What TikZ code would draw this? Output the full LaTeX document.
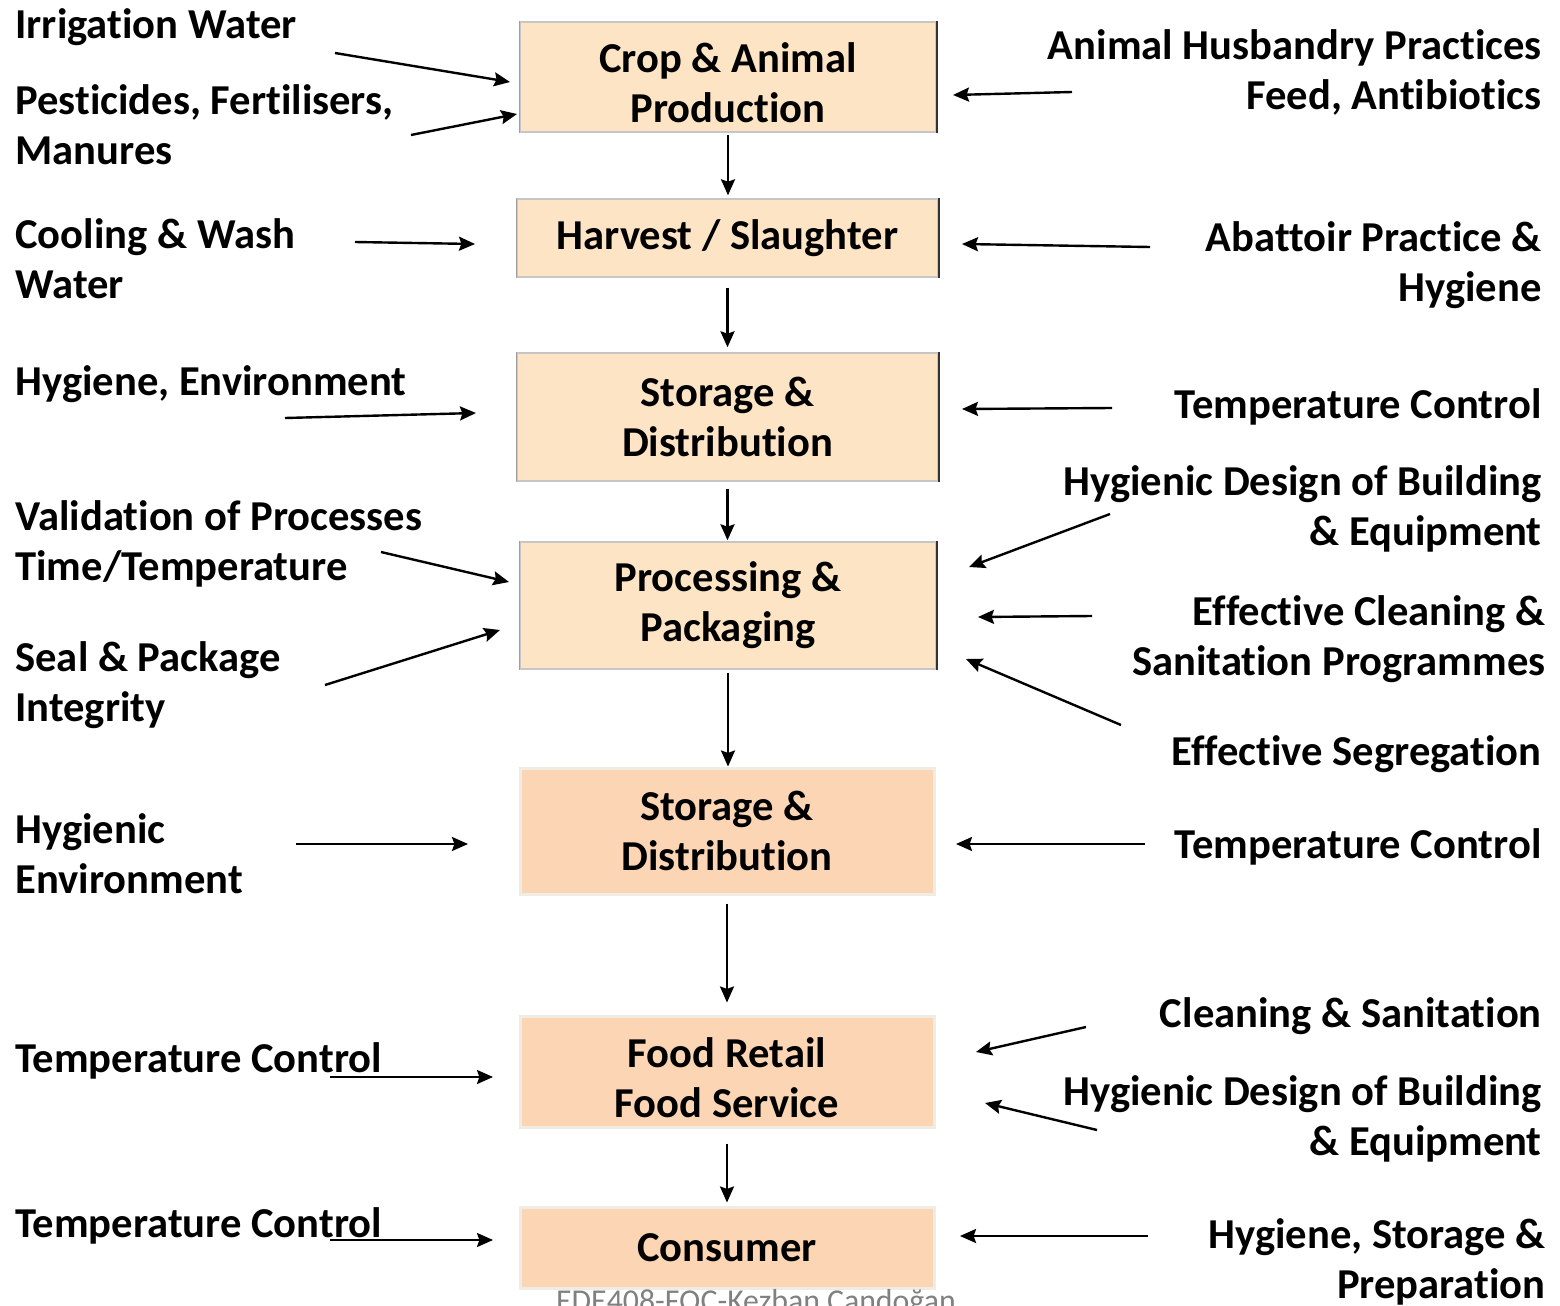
\documentclass[tikz,border=0pt]{standalone}
\usepackage{fontspec}
\setmainfont[Ligatures=NoCommon]{Carlito}
\usetikzlibrary{arrows.meta}
\definecolor{peachA}{HTML}{FDE4C4}
\definecolor{peachB}{HTML}{FBD5B4}
\definecolor{rimB}{HTML}{EFECE3}
\begin{document}
\begin{tikzpicture}[x=0.5pt,y=-0.5pt,
  txt/.style={font=\bfseries\fontsize{21.3}{25}\selectfont},
  box/.style={txt,draw=gray!45,line width=0.7pt,fill=peachA,align=center,inner sep=0pt},
  boxB/.style={box,draw=rimB,line width=1.5pt,fill=peachB},
  lbl/.style={txt,inner sep=0pt},
  lft/.style={lbl,anchor=west,align=left},
  rgt/.style={lbl,anchor=east,align=right},
  edge/.style={black!80,line width=1pt},
  flow/.style={-{Stealth[length=8pt,width=7pt,inset=1.2pt]},line width=1.2pt},
]
\clip (0,0) rectangle (1560,1306);
\fill[white] (0,0) rectangle (1560,1306);

% main boxes
\node[box,minimum width=208pt,minimum height=55pt,
  label={[txt,align=center,yshift=-3pt]center:{Crop \& Animal\\Production}}] (b1) at (728,77) {};
\node[box,minimum width=210.5pt,minimum height=39pt] (b2) at (727.5,238) {Harvest / Slaughter};
\node[box,minimum width=210.5pt,minimum height=64pt] (b3) at (727.5,417) {Storage \&\\Distribution};
\node[box,minimum width=208pt,minimum height=63.5pt] (b4) at (728,605.5) {Processing \&\\Packaging};
\node[boxB,minimum width=207pt,minimum height=63pt] (b5) at (727,831) {Storage \&\\Distribution};
\node[boxB,minimum width=207pt,minimum height=55.5pt,
  label={[txt,align=center,yshift=-3pt]center:{Food Retail\\Food Service}}] (b6) at (727,1071.5) {};
\node[boxB,minimum width=207pt,minimum height=40.5pt] (b7) at (727,1247.5) {Consumer};

% darker right and left edges of the upper boxes
\foreach \b in {b1,b2,b3,b4} {
  \draw[edge] (\b.north east) -- (\b.south east);
  \draw[gray!75,line width=0.8pt] (\b.north west) -- (\b.south west);
}

% vertical flow
\draw[flow,shorten <=1pt,shorten >=1.5pt] (b1.south) -- (b1.south |- b2.north);
\draw[flow,shorten <=5pt,shorten >=2.5pt] (b2.south) -- (b2.south |- b3.north);
\draw[flow,shorten <=3.5pt,shorten >=0.5pt] (b3.south) -- (b3.south |- b4.north);
\draw[flow,shorten <=1.5pt,shorten >=0pt] (b4.south) -- (b4.south |- b5.north);
\draw[flow,shorten <=4pt,shorten >=6pt] (b5.south) -- (b5.south |- b6.north);
\draw[flow,shorten <=7.5pt,shorten >=1.5pt] (b6.south) -- (b6.south |- b7.north);

% left labels
\node[lft] (l1) at (15,27) {Irrigation Water};
\node[lft] (l2) at (15,125) {Pesticides, Fertilisers,\\Manures};
\node[lft] (l3) at (15,259) {Cooling \& Wash\\Water};
\node[lft] (l4) at (15,384) {Hygiene, Environment};
\node[lft] (l5) at (15,544) {Validation of Processes\\Time/Temperature};
\node[lft] (l6) at (15,685) {Seal \& Package\\Integrity};
\node[lft] (l7) at (15,853.5) {Hygienic\\Environment};
\node[lft] (l8) at (15,1061) {Temperature Control};
\node[lft] (l9) at (15,1226) {Temperature Control};

% right labels
\node[rgt] (r1) at (1542,72.5) {Animal Husbandry Practices\\Feed, Antibiotics};
\node[rgt] (r2) at (1542,265) {Abattoir Practice \&\\Hygiene};
\node[rgt] (r3) at (1542,407) {Temperature Control};
\node[rgt] (r4) at (1542,509) {Hygienic Design of Building\\\& Equipment};
\node[rgt] (r5) at (1546,639) {Effective Cleaning \&\\Sanitation Programmes};
\node[rgt] (r6) at (1542,754) {Effective Segregation};
\node[rgt] (r7) at (1542,847) {Temperature Control};
\node[rgt] (r8) at (1542,1016) {Cleaning \& Sanitation};
\node[rgt] (r9) at (1542,1119) {Hygienic Design of Building\\\& Equipment};
\node[rgt] (r10) at (1546,1262) {Hygiene, Storage \&\\Preparation};

% arrow end coordinates (tail t, head h)
\coordinate (t1) at (335,53);   \coordinate (h1) at (510,82);
\coordinate (t2) at (411,135);  \coordinate (h2) at (517,114);
\coordinate (t3) at (355,242);  \coordinate (h3) at (475,244);
\coordinate (t4) at (285,418);  \coordinate (h4) at (476,413);
\coordinate (t5) at (381,552);  \coordinate (h5) at (509,582);
\coordinate (t6) at (325,685);  \coordinate (h6) at (500,630);
\coordinate (t7) at (296,844);  \coordinate (h7) at (468,844);
\coordinate (t8) at (330,1077); \coordinate (h8) at (493,1077);
\coordinate (t9) at (330,1240); \coordinate (h9) at (493,1240);

\coordinate (u1) at (1072,92);   \coordinate (g1) at (953,95);
\coordinate (u2) at (1150,247);  \coordinate (g2) at (962,244);
\coordinate (u3) at (1112,408);  \coordinate (g3) at (962,409);
\coordinate (u4) at (1110,514);  \coordinate (g4) at (969,567);
\coordinate (u5) at (1092,616);  \coordinate (g5) at (978,617);
\coordinate (u6) at (1121,725);  \coordinate (g6) at (966,659);
\coordinate (u7) at (1145,844);  \coordinate (g7) at (956,844);
\coordinate (u8) at (1086,1027); \coordinate (g8) at (976,1052);
\coordinate (u9) at (1097,1130); \coordinate (g9) at (985,1103);
\coordinate (u10) at (1148,1236); \coordinate (g10) at (960,1236);

\foreach \i in {1,...,9} {\draw[flow] (t\i) -- (h\i);}
\foreach \i in {1,...,10} {\draw[flow] (u\i) -- (g\i);}

% footer (cut off at the lower edge, as in the reference)
\node[anchor=base,inner sep=0pt,text=gray,font=\fontsize{15.9}{19}\selectfont] (foot) at (756,1311) {EDE408-FQC-Kezban Candoğan};
\end{tikzpicture}
\end{document}
